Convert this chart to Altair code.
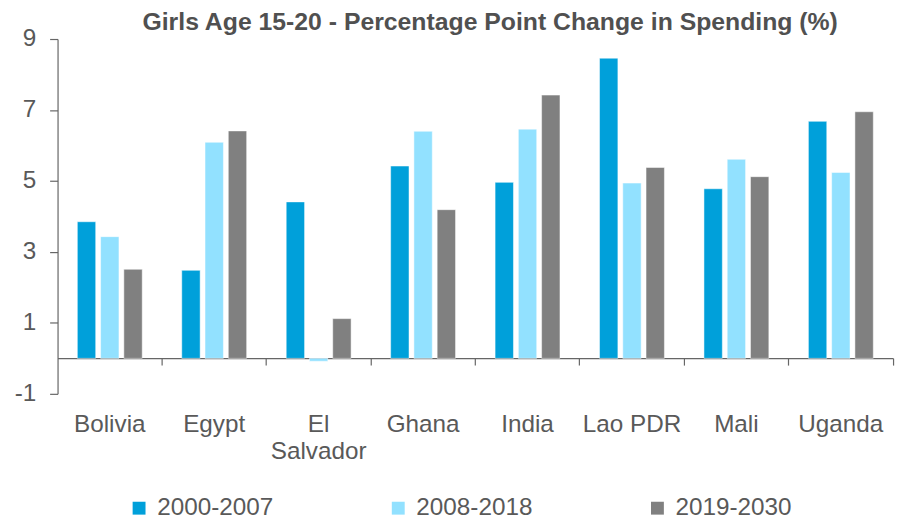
import altair as alt
import pandas as pd

countries = ["Bolivia", "Egypt", "El Salvador", "Ghana", "India", "Lao PDR", "Mali", "Uganda"]
periods = ["2000-2007", "2008-2018", "2019-2030"]
v2000 = [3.85, 2.48, 4.41, 5.42, 4.96, 8.46, 4.78, 6.68]
v2008 = [3.43, 6.09, -0.08, 6.40, 6.46, 4.94, 5.61, 5.24]
v2019 = [2.51, 6.41, 1.12, 4.19, 7.42, 5.38, 5.12, 6.95]
colors = ["#00A0DA", "#92E1FF", "#808080"]
y_ticks = [-1, 1, 3, 5, 7, 9]

rows = []
for i, c in enumerate(countries):
    for p, vals in zip(periods, [v2000, v2008, v2019]):
        rows.append({"country": c, "period": p, "value": vals[i]})
df = pd.DataFrame(rows)

W, H = 843, 358
FONT = "Liberation Sans"
TXT = "#595959"
AX = "#666666"
FS = 24.5

chart = alt.Chart(df).mark_bar(stroke="white", strokeWidth=0.5).encode(
    x=alt.X(
        "country:N", sort=countries, title=None,
        scale=alt.Scale(paddingInner=0, paddingOuter=0),
        axis=alt.Axis(
            offset=-36, bandPosition=1, tickSize=7,
            labelPadding=48, labelAngle=0, labelFontSize=FS, labelColor=TXT,
            labelFont=FONT, labelLineHeight=27,
            labelExpr="datum.value == 'El Salvador' ? ['El', 'Salvador'] : datum.value",
            domainColor=AX, tickColor=AX, domainWidth=1.2, tickWidth=1.2,
        ),
    ),
    xOffset=alt.XOffset("period:N", sort=periods,
                        scale=alt.Scale(paddingInner=0.21, paddingOuter=0.85)),
    y=alt.Y(
        "value:Q", title=None,
        scale=alt.Scale(domain=[-1, 9], nice=False),
        axis=alt.Axis(values=y_ticks, grid=False, tickSize=8, labelPadding=14,
                      labelFontSize=FS, labelColor=TXT, labelFont=FONT,
                      labelExpr="'' + datum.value",
                      domainColor=AX, tickColor=AX, domainWidth=1.2, tickWidth=1.2),
    ),
    color=alt.Color(
        "period:N", sort=periods,
        scale=alt.Scale(domain=periods, range=colors),
        legend=alt.Legend(
            title=None, orient="none", legendX=70, legendY=461,
            direction="horizontal", symbolType="square", symbolSize=169,
            symbolStrokeWidth=0, labelFontSize=FS, labelColor=TXT, labelFont=FONT,
            columnPadding=113.5, labelOffset=6,
        ),
    ),
).properties(
    width=W, height=H,
    title=alt.TitleParams(
        "Girls Age 15-20 - Percentage Point Change in Spending (%)",
        fontSize=25, font=FONT, fontWeight="bold", color="#505050",
        anchor="middle", dx=15, dy=15, offset=6,
    ),
    padding={"left": 50, "top": 29, "right": 7, "bottom": 125},
    autosize=alt.AutoSizeParams(type="none"),
).configure_view(stroke=None)

chart.save("out.html", embed_options={"renderer": "svg", "actions": False})
